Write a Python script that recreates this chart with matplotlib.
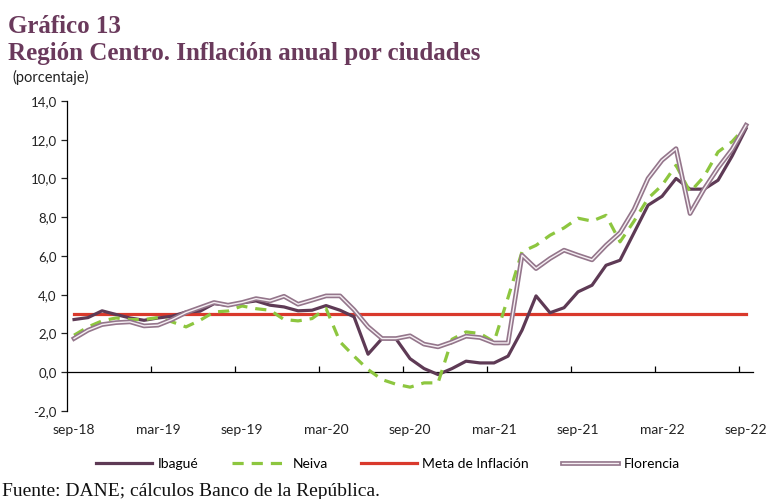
import matplotlib
matplotlib.use("Agg")
import matplotlib.pyplot as plt
import matplotlib.patheffects as pe
import numpy as np

# inflacion anual por ciudad, sep-18 a sep-22 (mensual)
ibague = [2.72, 2.82, 3.17, 2.98, 2.80, 2.68, 2.80, 2.89, 3.11, 3.15, 3.54, 3.46, 3.58,
          3.68, 3.46, 3.37, 3.17, 3.20, 3.44, 3.20, 2.86, 0.93, 1.74, 1.72, 0.70,
          0.19, -0.12, 0.19, 0.57, 0.48, 0.48, 0.83, 2.17, 3.94, 3.07, 3.33, 4.15,
          4.49, 5.52, 5.78, 7.20, 8.62, 9.08, 10.00, 9.45, 9.45, 9.91, 11.15, 12.58]
neiva = [1.91, 2.34, 2.65, 2.80, 2.72, 2.72, 2.82, 2.60, 2.34, 2.68, 3.11, 3.16, 3.42,
         3.28, 3.20, 2.72, 2.65, 2.77, 3.29, 1.57, 0.83, 0.14, -0.38, -0.62, -0.77,
         -0.55, -0.55, 1.70, 2.08, 2.00, 1.57, 3.85, 6.22, 6.55, 7.07, 7.45, 7.95,
         7.80, 8.10, 6.73, 7.80, 8.97, 9.65, 10.68, 9.30, 10.10, 11.37, 11.90, 12.70]
florencia = [1.74, 2.17, 2.46, 2.56, 2.60, 2.39, 2.43, 2.72, 3.08, 3.34, 3.60, 3.46, 3.60,
             3.80, 3.68, 3.92, 3.51, 3.72, 3.94, 3.94, 3.22, 2.35, 1.74, 1.74, 1.88,
             1.45, 1.31, 1.56, 1.86, 1.79, 1.51, 1.51, 6.04, 5.35, 5.87, 6.30, 6.04,
             5.80, 6.55, 7.20, 8.40, 10.00, 10.94, 11.54, 8.19, 9.45, 10.55, 11.50, 12.75]
meta = [3.0] * len(ibague)

tick_labels = ['sep-18', 'mar-19', 'sep-19', 'mar-20', 'sep-20',
               'mar-21', 'sep-21', 'mar-22', 'sep-22']
y_ticks = [-2, 0, 2, 4, 6, 8, 10, 12, 14]
y_labels = ['-2,0', '0,0', '2,0', '4,0', '6,0', '8,0', '10,0', '12,0', '14,0']

plt.rcParams['font.family'] = ['Lato', 'DejaVu Sans']

fig = plt.figure(figsize=(7.67, 4.99), dpi=100)
ax = fig.add_axes([0.0874, 0.1764, 0.8944, 0.6212])

x = np.arange(len(ibague))
ax.plot(x, ibague, color='#5e3a55', lw=2.3, label='Ibagué', zorder=3)
ax.plot(x, neiva, color='#8dc63f', lw=2.3, dashes=(3.5, 2.5), label='Neiva', zorder=3)
ax.plot(x, meta, color='#d9392c', lw=2.3, label='Meta de Inflación', zorder=2)
ax.plot(x, florencia, color='#f6eff4', lw=1.0, label='Florencia', zorder=4,
        path_effects=[pe.Stroke(linewidth=3.4, foreground='#94768b'), pe.Normal()])

ax.set_xlim(-0.5, len(ibague) - 0.5)
ax.set_ylim(-2, 14)
ax.set_yticks(y_ticks)
ax.set_yticklabels(y_labels)

tick_pos = [i * 6 for i in range(len(tick_labels))]
ax.set_xticks(tick_pos)
ax.set_xticklabels(tick_labels)
ax.set_xticks([p - 0.5 for p in tick_pos[1:]], minor=True)

for s in ['top', 'right']:
    ax.spines[s].set_visible(False)
ax.spines['bottom'].set_position(('data', 0))
ax.spines['bottom'].set_linewidth(0.9)
ax.spines['left'].set_linewidth(0.9)

ax.tick_params(axis='x', which='major', length=0, pad=37, labelsize=10, colors='#222222')
ax.tick_params(axis='x', which='minor', direction='in', length=4, width=0.9)
ax.tick_params(axis='y', direction='out', length=4, width=0.9, labelsize=9.5, colors='#222222')

# titulos
W, H = 767, 499
fig.text(8 / W, 1 - 33 / H, 'Gráfico 13', fontsize=18, fontweight='bold',
         family='Liberation Serif', color='#6a3a5c', va='baseline')
fig.text(8 / W, 1 - 60 / H, 'Región Centro. Inflación anual por ciudades', fontsize=18,
         fontweight='bold', family='Liberation Serif', color='#6a3a5c', va='baseline')
fig.text(12 / W, 1 - 77 / H, '(porcentaje)', fontsize=10.5, va='center', color='#222222')
fig.text(2 / W, 1 - 496 / H, 'Fuente: DANE; cálculos Banco de la República.', fontsize=14,
         family='Liberation Serif', va='baseline', color='#111111')

fig.legend(loc='center', bbox_to_anchor=(388 / W, 1 - 464 / H), ncol=4, frameon=False,
           fontsize=10, handlelength=4.0, handletextpad=0.4, columnspacing=2.4)

fig.savefig('out.png', dpi=100)
